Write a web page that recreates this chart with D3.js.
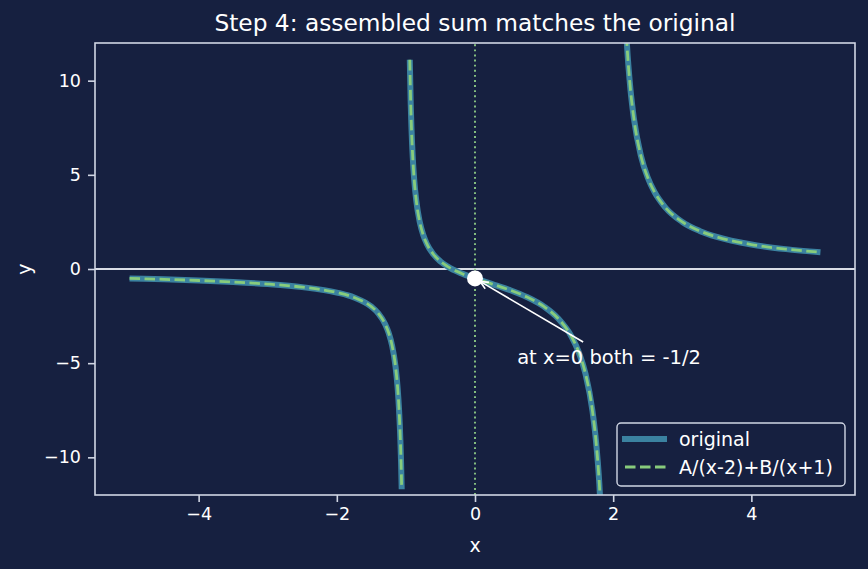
<!DOCTYPE html>
<html>
<head>
<meta charset="utf-8">
<script src="https://cdn.jsdelivr.net/npm/d3@7"></script>
<style>
  body { margin: 0; background: #162040; }
  svg { display: block; font-family: "DejaVu Sans", sans-serif; }
</style>
</head>
<body>
<svg id="chart" width="868" height="569"></svg>
<script>
// Branches of the curve (x, y pairs)
const leftX  = [-5, -4.5, -4, -3.5, -3, -2.5, -2, -1.75, -1.5, -1.4, -1.3, -1.25, -1.2, -1.15, -1.12, -1.1, -1.08, -1.07, -1.061];
const leftY  = [-0.5, -0.55, -0.611, -0.691, -0.8, -0.963, -1.25, -1.511, -2.0, -2.353, -2.929, -3.385, -4.063, -5.185, -6.303, -7.419, -9.091, -10.284, -11.69];
const midX   = [-0.944, -0.93, -0.92, -0.9, -0.88, -0.85, -0.8, -0.75, -0.7, -0.6, -0.5, -0.4, -0.2, 0, 0.25, 0.5, 0.75, 1.0, 1.2, 1.4, 1.5, 1.6, 1.7, 1.75, 1.8, 1.84];
const midY   = [11.11, 8.727, 7.534, 5.862, 4.745, 3.626, 2.5, 1.818, 1.358, 0.769, 0.4, 0.139, -0.227, -0.5, -0.8, -1.111, -1.486, -2.0, -2.614, -3.611, -4.4, -5.577, -7.531, -9.091, -11.429, -14.349];
const rightX = [2.16, 2.2, 2.25, 2.3, 2.4, 2.5, 2.6, 2.75, 3, 3.25, 3.5, 4, 4.5, 5];
const rightY = [14.794, 11.875, 9.538, 7.98, 6.029, 4.857, 4.074, 3.289, 2.5, 2.024, 1.704, 1.3, 1.055, 0.889];

const xTicks = [-4, -2, 0, 2, 4];
const yTicks = [-10, -5, 0, 5, 10];
const legendLabels = ["original", "A/(x-2)+B/(x+1)"];
const markPoint = [0, -0.5];
const noteText = "at x=0 both = -1/2";
const notePos = [0.61, -4.67];

const width = 868, height = 569;
const margin = { top: 43, right: 13, bottom: 74, left: 95 };
const svg = d3.select("#chart");

const origColor = "#3b82a0", sumColor = "#88cc7c", axisColor = "#d0d6e4";

const x = d3.scaleLinear().domain([-5.5, 5.5]).range([margin.left, width - margin.right]);
const y = d3.scaleLinear().domain([-12, 12]).range([height - margin.bottom, margin.top]);

const branches = [
    d3.zip(leftX, leftY),
    d3.zip(midX, midY),
    d3.zip(rightX, rightY)
];

svg.append("defs").append("clipPath").attr("id", "clip")
    .append("rect")
    .attr("x", margin.left).attr("y", margin.top)
    .attr("width", width - margin.left - margin.right)
    .attr("height", height - margin.top - margin.bottom);

const plot = svg.append("g").attr("clip-path", "url(#clip)");

// Reference lines
plot.append("line")
    .attr("x1", x(-5.5)).attr("x2", x(5.5))
    .attr("y1", y(0)).attr("y2", y(0))
    .attr("stroke", "#d9dde6").attr("stroke-width", 1.8);

plot.append("line")
    .attr("x1", x(0)).attr("x2", x(0))
    .attr("y1", y(-12)).attr("y2", y(12))
    .attr("stroke", "#8fce86").attr("stroke-width", 1.8)
    .attr("stroke-dasharray", "1.9,3.2");

const line = d3.line()
    .x(d => x(d[0]))
    .y(d => y(d[1]))
    .curve(d3.curveMonotoneX);

// Original function (thick)
plot.selectAll(".orig")
    .data(branches)
    .join("path")
    .attr("class", "orig")
    .attr("d", line)
    .attr("fill", "none")
    .attr("stroke", origColor)
    .attr("stroke-width", 6);

// Partial fraction sum (dashed)
plot.selectAll(".sum")
    .data(branches)
    .join("path")
    .attr("class", "sum")
    .attr("d", line)
    .attr("fill", "none")
    .attr("stroke", sumColor)
    .attr("stroke-width", 2.8)
    .attr("stroke-dasharray", "10.5,4.5");

// Marker
svg.append("circle")
    .attr("cx", x(markPoint[0])).attr("cy", y(markPoint[1]))
    .attr("r", 8)
    .attr("fill", "white");

// Annotation arrow
const tail = [x(notePos[0]) + 66, y(notePos[1]) - 15];
const head = [x(markPoint[0]) + 5, y(markPoint[1]) + 3];
svg.append("line")
    .attr("x1", tail[0]).attr("y1", tail[1])
    .attr("x2", head[0]).attr("y2", head[1])
    .attr("stroke", "white").attr("stroke-width", 1.6);

const ang = Math.atan2(tail[1] - head[1], tail[0] - head[0]);
const hl = 9, hw = 0.42;
svg.append("path")
    .attr("d", d3.line()([
        [head[0] + hl * Math.cos(ang + hw), head[1] + hl * Math.sin(ang + hw)],
        head,
        [head[0] + hl * Math.cos(ang - hw), head[1] + hl * Math.sin(ang - hw)]
    ]))
    .attr("fill", "none").attr("stroke", "white").attr("stroke-width", 1.6);

svg.append("text")
    .attr("x", x(notePos[0])).attr("y", y(notePos[1]))
    .attr("dy", "0.35em")
    .attr("fill", "white")
    .attr("font-size", 19.5)
    .text(noteText);

// Axes
const fmt = d => d < 0 ? "\u2212" + Math.abs(d) : d;
const xAxis = svg.append("g")
    .attr("transform", `translate(0,${height - margin.bottom})`)
    .call(d3.axisBottom(x).tickValues(xTicks).tickSize(7).tickPadding(6).tickFormat(fmt));
const yAxis = svg.append("g")
    .attr("transform", `translate(${margin.left},0)`)
    .call(d3.axisLeft(y).tickValues(yTicks).tickSize(7).tickPadding(7).tickFormat(fmt));

[xAxis, yAxis].forEach(g => {
    g.select(".domain").remove();
    g.selectAll(".tick line").attr("stroke", axisColor).attr("stroke-width", 1.6);
    g.selectAll(".tick text").attr("fill", "white").attr("font-size", 17.5).attr("font-family", "DejaVu Sans, sans-serif");
});

svg.append("rect")
    .attr("x", margin.left).attr("y", margin.top)
    .attr("width", width - margin.left - margin.right)
    .attr("height", height - margin.top - margin.bottom)
    .attr("fill", "none")
    .attr("stroke", axisColor).attr("stroke-width", 1.6);

// Titles
svg.append("text")
    .attr("x", (margin.left + width - margin.right) / 2).attr("y", 31)
    .attr("text-anchor", "middle")
    .attr("fill", "white").attr("font-size", 23.3)
    .text("Step 4: assembled sum matches the original");

svg.append("text")
    .attr("x", (margin.left + width - margin.right) / 2).attr("y", 552)
    .attr("text-anchor", "middle")
    .attr("fill", "white").attr("font-size", 19)
    .text("x");

svg.append("text")
    .attr("transform", `translate(31,${y(0)}) rotate(-90)`)
    .attr("text-anchor", "middle")
    .attr("fill", "white").attr("font-size", 19)
    .text("y");

// Legend
const lg = svg.append("g").attr("transform", "translate(617,423)");
lg.append("rect")
    .attr("width", 228).attr("height", 63)
    .attr("rx", 4)
    .attr("fill", "#162040").attr("fill-opacity", 0.8)
    .attr("stroke", axisColor).attr("stroke-width", 1.4);

lg.append("line").attr("x1", 5).attr("x2", 50).attr("y1", 16).attr("y2", 16)
    .attr("stroke", origColor).attr("stroke-width", 6);
lg.append("line").attr("x1", 8).attr("x2", 50).attr("y1", 44).attr("y2", 44)
    .attr("stroke", sumColor).attr("stroke-width", 2.8).attr("stroke-dasharray", "10.5,4.5");

lg.selectAll(".lab")
    .data(legendLabels)
    .join("text")
    .attr("class", "lab")
    .attr("x", 62)
    .attr("y", (d, i) => 16 + i * 28)
    .attr("dy", "0.35em")
    .attr("fill", "white").attr("font-size", 19)
    .text(d => d);
</script>
</body>
</html>
